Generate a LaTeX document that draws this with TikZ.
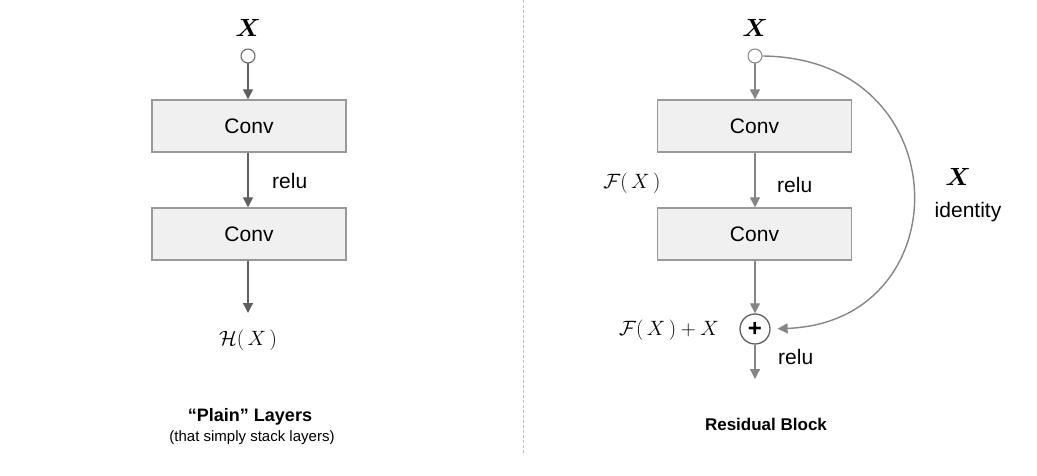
\documentclass[tikz,border=0pt]{standalone}
\usepackage{bm}
\usepackage{fontspec}
\setmainfont{Liberation Sans}
\usetikzlibrary{arrows.meta}
\definecolor{boxfill}{HTML}{F0F0F0}
\definecolor{boxline}{HTML}{999999}
\definecolor{darkarr}{HTML}{606060}
\definecolor{lightarr}{HTML}{858585}
\definecolor{divcol}{HTML}{BBBBBB}
\tikzset{
  convbox/.style={draw=boxline, fill=boxfill, line width=1.3pt, minimum width=194pt, minimum height=52pt, inner sep=0pt, font=\fontsize{21}{24}\selectfont},
  inport/.style={circle, draw=#1, fill=white, line width=1pt, minimum size=14pt, inner sep=0pt},
  arr/.style={draw=#1, line width=1.2pt, -{Triangle[width=10pt,length=10pt]}, #1},
  lbl/.style={font=\fontsize{21}{24}\selectfont, inner sep=0pt},
  bigx/.style={font=\fontsize{32}{36}\selectfont, inner sep=0pt},
  mathlbl/.style={font=\fontsize{21}{24}\selectfont, inner sep=0pt},
}
\begin{document}
\begin{tikzpicture}[x=1pt,y=-1pt]
\useasboundingbox (0,0) rectangle (1037,476);
% divider
\draw[divcol, line width=0.8pt, dash pattern=on 3pt off 2pt] (523,0) -- (523,455);

% ---------- left: plain layers ----------
\node[bigx] (lx) at (248,28) {$\bm{X}$};
\node[inport=darkarr] (lin) at (248,56) {};
\node[convbox] (lc1) at (249,126) {Conv};
\node[convbox] (lc2) at (249,234) {Conv};
\coordinate (lend) at (248,313);
\draw[arr=darkarr] (lin) -- (lin|-lc1.north);
\draw[arr=darkarr] (lc1.south-|lin) -- (lin|-lc2.north);
\draw[arr=darkarr] (lc2.south-|lin) -- (lend);
\node[lbl, anchor=west] (lrelu) at (272,181) {relu};
\node[mathlbl] (lh) at (248,340) {$\mathcal{H}(\,X\,)$};
\node[inner sep=0pt, font=\fontsize{18}{22}\selectfont\bfseries] (ltitle) at (250,417) {“Plain” Layers};
\node[inner sep=0pt, font=\fontsize{15}{18}\selectfont] (lsub) at (252,438) {(that simply stack layers)};

% ---------- right: residual block ----------
\node[bigx] (rx) at (755,28) {$\bm{X}$};
\node[inport=lightarr] (rin) at (755,56) {};
\node[convbox] (rc1) at (754.5,126) {Conv};
\node[convbox] (rc2) at (754.5,234) {Conv};
\node[circle, draw=darkarr, line width=1.3pt, minimum size=30pt, inner sep=0pt, font=\fontsize{24}{24}\selectfont\bfseries] (plus) at (755,329) {+};
\coordinate (rend) at (755,379);
\draw[arr=lightarr] (rin) -- (rin|-rc1.north);
\draw[arr=lightarr] (rc1.south-|rin) -- (rin|-rc2.north);
\draw[arr=lightarr] (rc2.south-|rin) -- (plus.north);
\draw[arr=lightarr] (plus.south) -- (rend);
\draw[arr=lightarr, line width=1.4pt, shorten >=7pt] (rin.east) .. controls (960,58) and (962,322) .. (plus.east);
\node[lbl, anchor=west] (rrelu1) at (777,185) {relu};
\node[lbl, anchor=west] (rrelu2) at (778,357) {relu};
\node[mathlbl] (fx) at (632,183) {$\mathcal{F}(\,X\,)$};
\node[mathlbl, anchor=east] (fxx) at (719,330) {$\mathcal{F}(\,X\,)+X$};
\node[bigx] (idx) at (958,177) {$\bm{X}$};
\node[lbl] (ident) at (968,212) {identity};
\node[inner sep=0pt, font=\fontsize{17}{20}\selectfont\bfseries] (rtitle) at (766,424) {Residual Block};
\end{tikzpicture}
\end{document}
